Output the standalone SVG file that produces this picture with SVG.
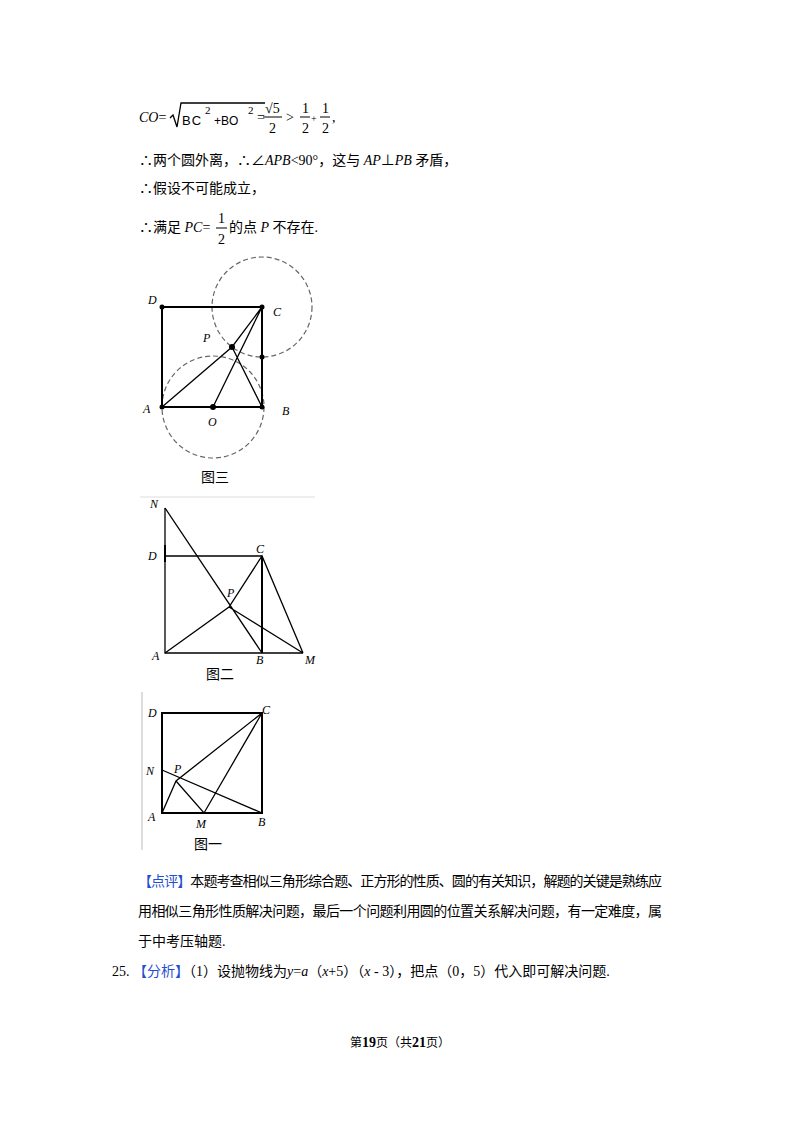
<svg xmlns="http://www.w3.org/2000/svg" width="800" height="1132" viewBox="0 0 800 1132">
<style>
.t{font-family:"Liberation Serif","Noto Sans CJK SC",serif;font-size:14px;fill:#000}
.i{font-style:italic}
.l{font-family:"Liberation Serif",serif;font-style:italic;font-size:12px;fill:#000}
.b{fill:#1f4fd1}
.s{stroke:#000;fill:none;stroke-width:1.3}
.th{stroke:#000;fill:none;stroke-width:2}
.d{stroke:#666;fill:none;stroke-width:1.2;stroke-dasharray:5,3}
</style>
<rect width="800" height="1132" fill="#fff"/>
<g id="text">
<text class="t" x="139" y="122"><tspan class="i">CO</tspan>=</text>
<path d="M170 118 l3 -3 l4 12 l4 -24 h84" class="s" stroke-width="1"/>
<text class="t" x="182" y="125" style="font-family:'Liberation Sans',sans-serif;font-size:13px;letter-spacing:1px">BC</text>
<text class="t" x="205" y="114" style="font-size:11px">2</text>
<text class="t" x="214" y="125" style="font-family:'Liberation Sans',sans-serif;font-size:12px">+BO</text>
<text class="t" x="248" y="114" style="font-size:11px">2</text>
<text class="t" x="257" y="122">=</text>
<text class="t" x="265" y="113">√5</text>
<line x1="263" y1="117" x2="282" y2="117" stroke="#000"/>
<text class="t" x="269" y="133">2</text>
<text class="t" x="286" y="122">&gt;</text>
<text class="t" x="302" y="113">1</text><line x1="300" y1="117" x2="310" y2="117" stroke="#000"/><text class="t" x="302" y="133">2</text>
<text class="t" x="311" y="122" style="font-size:10px">+</text>
<text class="t" x="322" y="113">1</text><line x1="320" y1="117" x2="330" y2="117" stroke="#000"/><text class="t" x="322" y="133">2</text>
<text class="t" x="332" y="122">,</text>
<text class="t" x="139" y="165">∴两个圆外离，∴∠<tspan class="i">APB</tspan>&lt;90°，这与 <tspan class="i">AP</tspan>⊥<tspan class="i">PB</tspan> 矛盾，</text>
<text class="t" x="139" y="193">∴假设不可能成立，</text>
<text class="t" x="139" y="232">∴满足 <tspan class="i">PC</tspan>=</text>
<text class="t" x="218" y="223">1</text><line x1="216" y1="228" x2="227" y2="228" stroke="#000"/><text class="t" x="218" y="244">2</text>
<text class="t" x="229" y="232">的点 <tspan class="i">P</tspan> 不存在.</text>
<text class="t" x="138" y="886" textLength="524"><tspan class="b">【点评】</tspan>本题考查相似三角形综合题、正方形的性质、圆的有关知识，解题的关键是熟练应</text>
<text class="t" x="138" y="916" textLength="524">用相似三角形性质解决问题，最后一个问题利用圆的位置关系解决问题，有一定难度，属</text>
<text class="t" x="138" y="946">于中考压轴题.</text>
<text class="t" x="112" y="976">25. <tspan class="b">【分析】</tspan>（1）设抛物线为<tspan class="i">y</tspan>=<tspan class="i">a</tspan>（<tspan class="i">x</tspan>+5）（<tspan class="i">x</tspan> - 3），把点（0，5）代入即可解决问题.</text>
<text class="t" x="400" y="1047" text-anchor="middle" style="font-size:12px">第<tspan font-weight="bold" font-size="14">19</tspan>页（共<tspan font-weight="bold" font-size="14">21</tspan>页）</text>
</g>
<g id="fig3">
<circle cx="262" cy="307" r="50" class="d"/>
<circle cx="213" cy="407" r="51" class="d"/>
<rect x="162" y="307" width="100" height="100" class="th"/>
<path d="M162 407 L232 347 L262 307 M232 347 L262 407 M213 407 L262 307" class="s" stroke-width="1"/>
<g fill="#000"><circle cx="162" cy="307" r="2.5"/><circle cx="262" cy="307" r="2.5"/><circle cx="162" cy="407" r="2.5"/><circle cx="262" cy="407" r="2.5"/><circle cx="213" cy="407" r="3"/><circle cx="232" cy="347" r="3"/><circle cx="262" cy="357" r="2.5"/></g>
<text class="l" x="148" y="304">D</text><text class="l" x="273" y="316">C</text><text class="l" x="203" y="342">P</text>
<text class="l" x="143" y="413">A</text><text class="l" x="282" y="415">B</text><text class="l" x="208" y="426">O</text>
<text class="t" x="201" y="482">图三</text>
</g>
<g id="fig2">
<line x1="140" y1="497" x2="315" y2="497" stroke="#eee" stroke-width="2"/>
<path d="M165 556 H262 M165 508 V653 H303" class="s" stroke-width="1"/>
<line x1="165" y1="545" x2="165" y2="562" stroke="#000" stroke-width="2"/>
<line x1="262" y1="556" x2="262" y2="653" class="th"/>
<path d="M165 508 L262 653 M165 653 L229 607 L262 556 L303 653 M229 607 L303 653" class="s"/>
<text class="l" x="150" y="508">N</text><text class="l" x="148" y="560">D</text><text class="l" x="256" y="553">C</text><text class="l" x="227" y="597">P</text>
<text class="l" x="152" y="660">A</text><text class="l" x="256" y="664">B</text><text class="l" x="305" y="664">M</text>
<text class="t" x="206" y="679">图二</text>
</g>
<g id="fig1">
<line x1="142" y1="692" x2="142" y2="850" stroke="#ddd" stroke-width="2"/>
<rect x="162" y="713" width="100" height="100" class="th" stroke-width="1.8"/>
<path d="M162 770 L262 813 M162 813 L176 781 L262 713 M176 781 L204 813 L262 713" class="s" stroke-width="1.2"/>
<text class="l" x="148" y="717">D</text><text class="l" x="262" y="714">C</text><text class="l" x="146" y="775">N</text><text class="l" x="174" y="773">P</text>
<text class="l" x="148" y="821">A</text><text class="l" x="196" y="828">M</text><text class="l" x="258" y="826">B</text>
<text class="t" x="194" y="849">图一</text>
</g>
</svg>
